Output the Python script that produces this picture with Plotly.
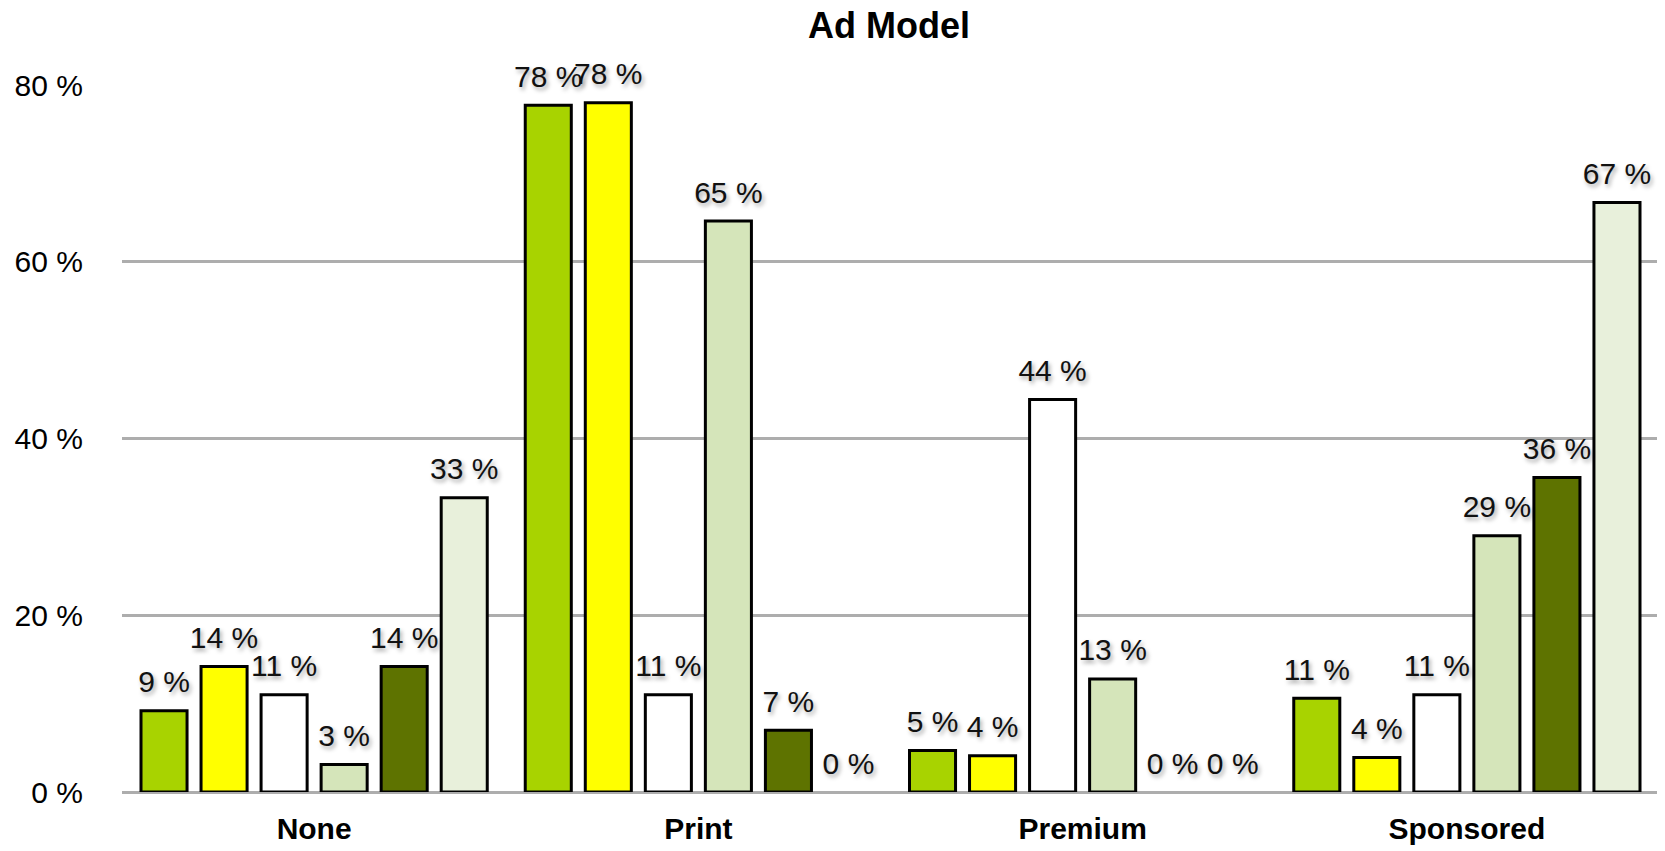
import plotly.graph_objects as go

categories = ["None", "Print", "Premium", "Sponsored"]
series_names = ["Series 1", "Series 2", "Series 3", "Series 4", "Series 5", "Series 6"]
series_1 = [9.2, 77.7, 4.7, 10.6]
series_2 = [14.2, 78.0, 4.1, 3.9]
series_3 = [11.0, 11.0, 44.4, 11.0]
series_4 = [3.1, 64.6, 12.8, 29.0]
series_5 = [14.2, 7.0, 0.0, 35.6]
series_6 = [33.3, 0.0, 0.0, 66.7]
series_colors = ["#A8D300", "#FFFF00", "#FFFFFF", "#D5E5BA", "#5E7300", "#E8F0DB"]
y_ticks = [0, 20, 40, 60, 80]

all_series = [series_1, series_2, series_3, series_4, series_5, series_6]

FONT = "Liberation Sans, Arial, Helvetica, sans-serif"
GAP = 0.0625
W, H = 1657, 843

fig = go.Figure()
for i, (name, vals, col) in enumerate(zip(series_names, all_series, series_colors)):
    fig.add_trace(go.Bar(
        x=categories, y=vals, name=name,
        offsetgroup=f"g{i}",
        marker=dict(color=col,
                    line=dict(color="#000000",
                              width=[3 if v > 0 else 0 for v in vals])),
        hoverinfo="skip",
    ))
for i, (name, vals) in enumerate(zip(series_names, all_series)):
    fig.add_trace(go.Scatter(
        x=categories, y=vals, name=name + " labels",
        offsetgroup=f"g{i}",
        mode="markers+text",
        marker=dict(size=16, opacity=0),
        text=[f"{round(v):d} %" for v in vals],
        textposition="top center",
        textfont=dict(family=FONT, size=30, color="#111111",
                      shadow="2px 3px 4px rgba(0,0,0,0.35)"),
        cliponaxis=False,
        hoverinfo="skip",
        showlegend=False,
    ))

fig.update_layout(
    width=W, height=H,
    barmode="group", bargap=GAP, bargroupgap=0.233,
    scattermode="group", scattergap=GAP,
    paper_bgcolor="#FFFFFF", plot_bgcolor="#FFFFFF",
    margin=dict(l=114, r=6, t=77, b=52),
    showlegend=False,
    title=dict(text="<b>Ad Model</b>", x=881 / W, xanchor="center",
               y=1 - 17 / H, yanchor="middle", yref="container",
               font=dict(family=FONT, size=36, color="#000000")),
    font=dict(family=FONT, color="#000000"),
)
fig.update_xaxes(
    tickfont=dict(family=FONT, size=30, color="#000000", weight="bold"),
    showgrid=False, showline=False, ticks="", ticklabelstandoff=16,
)
fig.update_yaxes(
    range=[0, 80], tickvals=y_ticks, ticktext=[f"{t} %" for t in y_ticks],
    tickfont=dict(family=FONT, size=30, color="#000000"),
    showgrid=True, gridcolor="#ADADAD", gridwidth=2.5,
    zeroline=True, zerolinecolor="#ADADAD", zerolinewidth=2.5,
    showline=False, ticks="", ticklabelstandoff=38,
)

fig.write_html("out.html")
